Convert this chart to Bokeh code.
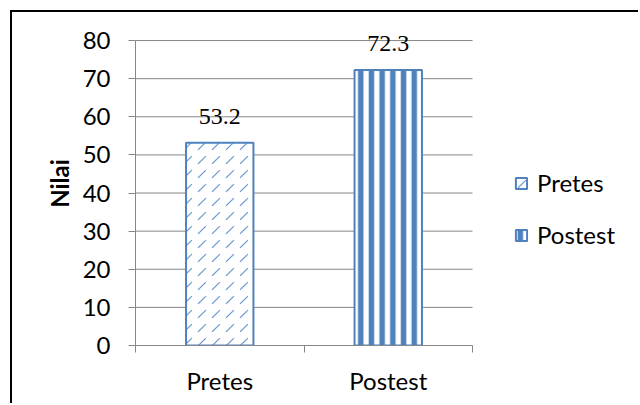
from bokeh.plotting import figure
from bokeh.models import (Range1d, FixedTicker, ColumnDataSource, LabelSet,
                          Legend, LegendItem)
from bokeh.embed import file_html
from bokeh.resources import INLINE

# ---- data ----
categories = ["Pretes", "Postest"]
values = [53.2, 72.3]
y_ticks = [0, 10, 20, 30, 40, 50, 60, 70, 80]
y_label = "Nilai"

FONT = "Lato"
FS = "24px"
BLUE = "#4f81bd"
LIGHT = "#6a97d4"
GRID = "#868686"

n = len(categories)
x = [i + 0.5 for i in range(n)]
src = ColumnDataSource(dict(x=x, top=values, label=[f"{v:.1f}" for v in values]))
grid_src = ColumnDataSource(dict(y=y_ticks, x0=[0] * len(y_ticks), x1=[n] * len(y_ticks)))

# frame is 505 px wide, the category area 337 px of it; the rest holds the legend
p = figure(width=628, height=393, x_range=Range1d(0, n * 505 / 337),
           y_range=Range1d(y_ticks[0], 85),
           output_backend="svg", toolbar_location=None,
           min_border_left=123, min_border_right=0, min_border_top=9, min_border_bottom=60)
p.margin = (12, 0, 0, 12)
p.styles = {"box-shadow": "-2px -2px 0 0 black"}
p.outline_line_color = None
p.background_fill_color = "white"
p.border_fill_color = "white"
p.xgrid.visible = False
p.ygrid.visible = False

p.segment(x0="x0", x1="x1", y0="y", y1="y", source=grid_src, line_color=GRID, line_width=1)

r1 = p.vbar(x=[x[0]], top=[values[0]], width=0.4, fill_color="white",
            line_color=BLUE, line_width=2,
            hatch_pattern=",", hatch_color=LIGHT, hatch_weight=1.2, hatch_scale=14)
r2 = p.vbar(x=[x[1]], top=[values[1]], width=0.4, fill_color="white",
            line_color=BLUE, line_width=2,
            hatch_pattern="|", hatch_color=BLUE, hatch_weight=5.5, hatch_scale=10.7)

labels = LabelSet(x="x", y="top", text="label", source=src, text_align="center",
                  text_baseline="alphabetic", y_offset=19,
                  text_font=FONT, text_font_size=FS, text_color="black")
p.add_layout(labels)

# x axis
xa = p.xaxis[0]
xa.bounds = (0, n)
xa.ticker = FixedTicker(ticks=x, minor_ticks=list(range(n + 1)))
xa.major_label_overrides = {xi: c for xi, c in zip(x, categories)}
xa.major_tick_out = 0
xa.major_tick_in = 0
xa.minor_tick_out = 7
xa.minor_tick_in = 0
xa.minor_tick_line_color = GRID
xa.axis_line_color = GRID
xa.major_label_text_font = FONT
xa.major_label_text_font_size = FS
xa.major_label_text_color = "black"
xa.major_label_standoff = 13

# y axis
ya = p.yaxis[0]
ya.ticker = FixedTicker(ticks=y_ticks)
ya.bounds = (y_ticks[0], y_ticks[-1])
ya.major_tick_out = 7
ya.major_tick_in = 0
ya.minor_tick_line_color = None
ya.major_tick_line_color = GRID
ya.axis_line_color = GRID
ya.major_label_text_font = FONT
ya.major_label_text_font_size = FS
ya.major_label_text_color = "black"
ya.major_label_standoff = 18
ya.axis_label = y_label
ya.axis_label_text_font = FONT
ya.axis_label_text_font_size = FS
ya.axis_label_text_font_style = "bold"
ya.axis_label_text_color = "black"
ya.axis_label_standoff = 6

legend = Legend(items=[LegendItem(label=categories[0], renderers=[r1]),
                       LegendItem(label=categories[1], renderers=[r2])],
                location=(379, 96), padding=0, margin=0,
                border_line_color=None, background_fill_alpha=0,
                glyph_width=14, glyph_height=14, label_height=14,
                spacing=23, label_standoff=9,
                label_text_font=FONT, label_text_font_size=FS,
                label_text_baseline="middle", label_text_color="black")
p.add_layout(legend, "center")

open("out.html", "w").write(file_html(p, INLINE))
